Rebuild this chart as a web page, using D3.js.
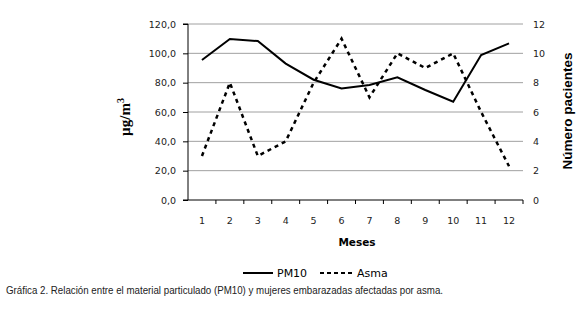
<!DOCTYPE html>
<html>
<head>
<meta charset="utf-8">
<script src="https://cdn.jsdelivr.net/npm/d3@7"></script>
<style>
body { margin: 0; background: #fff; }
svg { display: block; }
</style>
</head>
<body>
<div id="chart-area"></div>
<script>
// datos
let meses = [1, 2, 3, 4, 5, 6, 7, 8, 9, 10, 11, 12];
let pm10 = [95.5, 109.8, 108.4, 93.0, 82.0, 76.0, 78.4, 83.6, 75.0, 67.0, 98.8, 106.8];
let asma = [3, 8, 3, 4, 8, 11, 7, 10, 9, 10, 6, 2.3];
let leftTicks = [0, 20, 40, 60, 80, 100, 120];
let rightTicks = [0, 2, 4, 6, 8, 10, 12];

let svg = d3.select("#chart-area")
    .append("svg")
    .attr("width", 581)
    .attr("height", 317);

let margin = {left: 188, right: 523, top: 24, bottom: 200};

// Scales
let x = d3.scaleBand().domain(meses).range([margin.left, margin.right]);
let y = d3.scaleLinear().domain([0, 120]).range([margin.bottom, margin.top]);
let y2 = d3.scaleLinear().domain([0, 12]).range([margin.bottom, margin.top]);

// gridlines
svg.append("g")
    .selectAll("line")
    .data(leftTicks.slice(1))
    .enter().append("line")
    .attr("x1", margin.left).attr("x2", margin.right)
    .attr("y1", d => y(d)).attr("y2", d => y(d))
    .attr("stroke", "#a0a0a0")
    .attr("stroke-width", 1);

// Y Axis izquierdo
let yAxisCall = d3.axisLeft(y)
    .tickValues(leftTicks)
    .tickSize(5)
    .tickPadding(7)
    .tickFormat(d => d3.format(".1f")(d).replace(".", ","));
let yAxis = svg.append("g")
    .attr("transform", "translate(" + margin.left + ",0)")
    .call(yAxisCall);
yAxis.selectAll("text").attr("font-family", "DejaVu Sans").attr("font-size", "9.5px").attr("fill", "#222");
yAxis.select(".domain").attr("stroke", "#000").attr("d", `M-5,${margin.top}H0V${margin.bottom}`);
yAxis.selectAll(".tick line").attr("stroke", "#000");

// Y Axis derecho
let y2AxisCall = d3.axisRight(y2)
    .tickValues(rightTicks)
    .tickSize(0)
    .tickPadding(10);
let y2Axis = svg.append("g")
    .attr("transform", "translate(" + margin.right + ",0)")
    .call(y2AxisCall);
y2Axis.select(".domain").remove();
y2Axis.selectAll("text").attr("font-family", "DejaVu Sans").attr("font-size", "9.5px").attr("fill", "#222");

// X Axis
let xAxisCall = d3.axisBottom(x).tickSize(0).tickPadding(17);
let xAxis = svg.append("g")
    .attr("transform", "translate(0," + margin.bottom + ")")
    .call(xAxisCall);
xAxis.select(".domain").attr("stroke", "#000").attr("d", `M${margin.left - 5},0H${margin.right}`);
xAxis.selectAll("text").attr("font-family", "DejaVu Sans").attr("font-size", "9.5px").attr("fill", "#222");
svg.append("g")
    .selectAll("line")
    .data(meses)
    .enter().append("line")
    .attr("x1", d => x(d) + x.bandwidth()).attr("x2", d => x(d) + x.bandwidth())
    .attr("y1", margin.bottom).attr("y2", margin.bottom + 4)
    .attr("stroke", "#000");

// Lines
let linePm = d3.line().x((d, i) => x(meses[i]) + x.bandwidth() / 2).y(d => y(d));
let lineAsma = d3.line().x((d, i) => x(meses[i]) + x.bandwidth() / 2).y(d => y2(d));

svg.append("path")
    .attr("d", lineAsma(asma))
    .attr("fill", "none")
    .attr("stroke", "#000")
    .attr("stroke-width", 2.5)
    .attr("stroke-dasharray", "4,4");

svg.append("path")
    .attr("d", linePm(pm10))
    .attr("fill", "none")
    .attr("stroke", "#000")
    .attr("stroke-width", 2);

// Labels
svg.append("text")
    .attr("transform", "translate(130,117) rotate(-90)")
    .attr("text-anchor", "middle")
    .attr("font-family", "Liberation Serif")
    .attr("font-weight", "bold")
    .attr("font-size", "15px")
    .html('µg/m<tspan dy="-6" font-size="10px">3</tspan>');

svg.append("text")
    .attr("transform", "translate(572,111) rotate(-90)")
    .attr("text-anchor", "middle")
    .attr("font-family", "Liberation Sans")
    .attr("font-weight", "bold")
    .attr("font-size", "13.5px")
    .text("Número pacientes");

svg.append("text")
    .attr("x", 357)
    .attr("y", 246)
    .attr("text-anchor", "middle")
    .attr("font-family", "DejaVu Sans")
    .attr("font-weight", "bold")
    .attr("font-size", "10.5px")
    .text("Meses");

// LEGEND
let legend = svg.append("g");
legend.append("line")
    .attr("x1", 243).attr("x2", 273).attr("y1", 273).attr("y2", 273)
    .attr("stroke", "#000").attr("stroke-width", 2);
legend.append("text")
    .attr("x", 277).attr("y", 277)
    .attr("font-family", "DejaVu Sans").attr("font-size", "11px")
    .text("PM10");
legend.append("line")
    .attr("x1", 320).attr("x2", 352).attr("y1", 273).attr("y2", 273)
    .attr("stroke", "#000").attr("stroke-width", 2).attr("stroke-dasharray", "4,3");
legend.append("text")
    .attr("x", 357).attr("y", 277)
    .attr("font-family", "DejaVu Sans").attr("font-size", "11px")
    .text("Asma");

// Caption
svg.append("text")
    .attr("x", 6).attr("y", 294)
    .attr("font-family", "Liberation Sans")
    .attr("font-size", "10.5px")
    .attr("fill", "#222")
    .attr("textLength", 437)
    .attr("lengthAdjust", "spacingAndGlyphs")
    .text("Gráfica 2. Relación entre el material particulado (PM10) y mujeres embarazadas afectadas por asma.");
</script>
</body>
</html>
